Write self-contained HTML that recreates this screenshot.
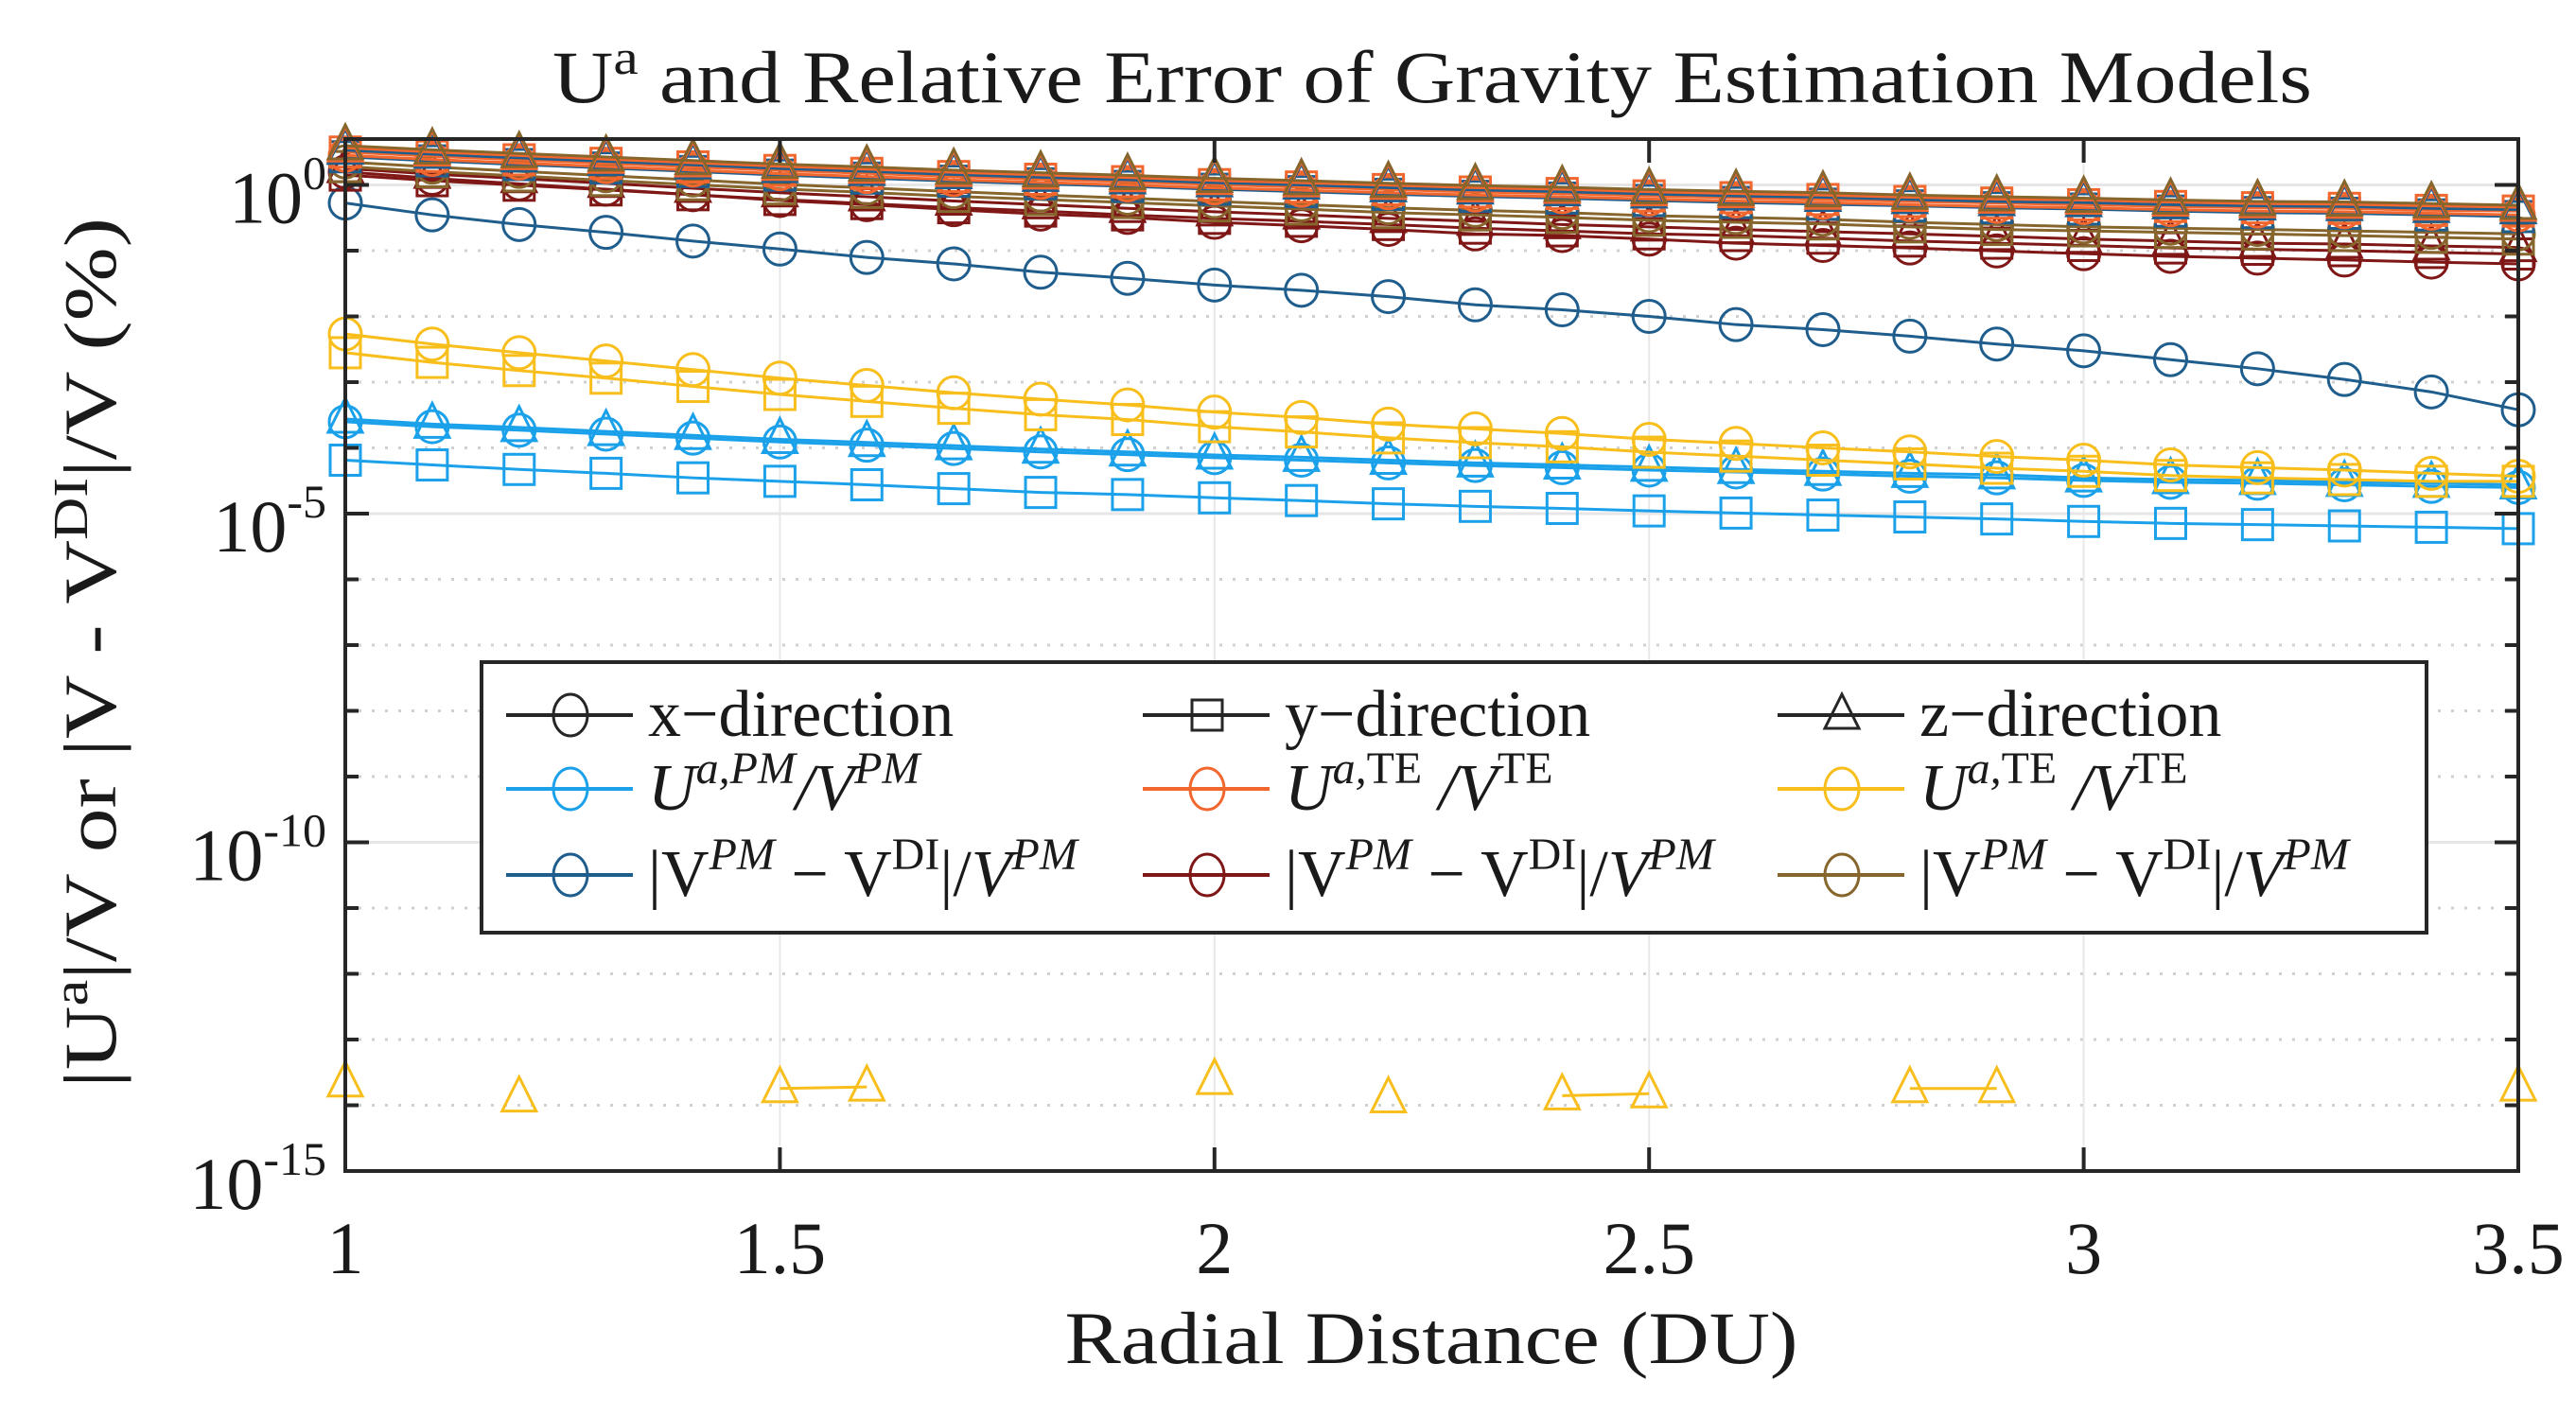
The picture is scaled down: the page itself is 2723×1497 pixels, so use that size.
<!DOCTYPE html>
<html><head><meta charset="utf-8"><style>
html,body{margin:0;padding:0;background:#fff}
svg{display:block}
text{font-family:"Liberation Serif",serif;fill:#1a1a1a}
</style></head><body>
<svg id="chart" width="2723" height="1497" viewBox="0 0 2723 1497" xmlns="http://www.w3.org/2000/svg">
<rect width="2723" height="1497" fill="#fff"/>
<g id="grid"></g>
<g id="series"></g>
<g id="axes"></g>
<text x="1514" y="108" text-anchor="middle" font-size="78" textLength="1860" lengthAdjust="spacingAndGlyphs">U<tspan dy="-30" font-size="52">a</tspan><tspan dy="30"> and Relative Error of Gravity Estimation Models</tspan></text>
<text x="1513" y="1441" text-anchor="middle" font-size="78" textLength="775" lengthAdjust="spacingAndGlyphs">Radial Distance (DU)</text>
<text transform="translate(122,690) rotate(-90)" text-anchor="middle" font-size="78" textLength="920" lengthAdjust="spacingAndGlyphs">|U<tspan dy="-30" font-size="52">a</tspan><tspan dy="30">|/V or |V - V</tspan><tspan dy="-30" font-size="52">DI</tspan><tspan dy="30">|/V (%)</tspan></text>
<g id="legend"></g>
</svg>
<script>
const xs = [1.0,1.1,1.2,1.3,1.4,1.5,1.6,1.7,1.8,1.9,2.0,2.1,2.2,2.3,2.4,2.5,2.6,2.7,2.8,2.9,3.0,3.1,3.2,3.3,3.4,3.5];
const xTicks = [1,1.5,2,2.5,3,3.5];
const xTickLabels = ["1","1.5","2","2.5","3","3.5"];
const yTickExps = [0,-5,-10,-15];
const yGridExps = [0,-1,-2,-3,-4,-5,-6,-7,-8,-9,-10,-11,-12,-13,-14];

const orangeX = [2.82,2.44,2.15,1.90,1.68,1.48,1.34,1.20,1.09,1.0,.90,.83,.76,.70,.66,.61,.57,.54,.50,.47,.45,.42,.40,.39,.37,.35];
const orangeY = [3.16,2.73,2.41,2.13,1.88,1.66,1.50,1.34,1.22,1.12,1.01,.93,.85,.78,.74,.68,.64,.60,.56,.53,.50,.47,.45,.44,.41,.40];
const orangeZ = [3.67,3.17,2.80,2.47,2.18,1.92,1.74,1.56,1.42,1.30,1.17,1.08,.99,.91,.86,.79,.74,.70,.65,.61,.59,.55,.52,.51,.48,.46];
const dblueY = [2.68,2.32,2.04,1.81,1.60,1.41,1.27,1.14,1.04,.95,.86,.79,.72,.67,.63,.58,.54,.51,.48,.45,.43,.40,.38,.37,.35,.33];
const dblueZ = [3.38,2.93,2.58,2.28,2.02,1.78,1.61,1.44,1.31,1.2,1.08,1.0,.91,.84,.79,.73,.68,.65,.60,.56,.54,.50,.48,.47,.44,.42];
const oliveZ = [3.95,3.42,3.01,2.66,2.35,2.07,1.88,1.68,1.53,1.4,1.26,1.16,1.06,.98,.92,.85,.80,.76,.70,.66,.63,.59,.56,.55,.52,.49];
const oliveX = [2.24,1.87,1.61,1.38,1.19,1.02,.90,.79,.70,.63,.56,.50,.45,.41,.38,.34,.32,.30,.27,.25,.23,.22,.21,.20,.19,.18];
const oliveY = [1.9,1.59,1.37,1.17,1.01,.87,.77,.67,.60,.54,.48,.43,.38,.35,.32,.29,.27,.255,.23,.21,.20,.19,.18,.17,.16,.15];
const redX = [1.58,1.26,1.04,.86,.71,.58,.50,.42,.36,.32,.27,.24,.21,.18,.17,.15,.13,.12,.11,.099,.090,.082,.077,.072,.067,.063];
const redY = [1.41,1.16,.99,.84,.71,.60,.52,.45,.40,.35,.31,.28,.25,.22,.20,.18,.17,.155,.14,.13,.12,.11,.105,.10,.094,.089];
const redZ = [1.78,1.46,1.25,1.06,.89,.76,.66,.57,.50,.44,.39,.35,.31,.28,.25,.23,.21,.195,.18,.165,.15,.14,.13,.126,.118,.112];
const dblueX = [5.3e-1,3.5e-1,2.5e-1,1.9e-1,1.4e-1,1.06e-1,7.9e-2,6.3e-2,4.7e-2,3.8e-2,3.0e-2,2.5e-2,2.0e-2,1.5e-2,1.26e-2,1.0e-2,7.5e-3,6.3e-3,5.0e-3,3.8e-3,3.0e-3,2.2e-3,1.6e-3,1.1e-3,7.1e-4,3.8e-4];
const yellowX = [5.4e-3,3.8e-3,2.8e-3,2.1e-3,1.55e-3,1.15e-3,8.9e-4,6.9e-4,5.5e-4,4.5e-4,3.5e-4,2.9e-4,2.3e-4,1.95e-4,1.66e-4,1.35e-4,1.17e-4,1.0e-4,8.7e-5,7.4e-5,6.5e-5,5.5e-5,5.0e-5,4.6e-5,4.1e-5,3.7e-5];
const yellowY = [2.8e-3,2.0e-3,1.5e-3,1.15e-3,8.6e-4,6.5e-4,5.1e-4,4.0e-4,3.2e-4,2.7e-4,2.1e-4,1.75e-4,1.42e-4,1.2e-4,1.04e-4,8.6e-5,7.5e-5,6.5e-5,5.7e-5,4.9e-5,4.4e-5,3.8e-5,3.5e-5,3.3e-5,3.1e-5,3.1e-5];
const yellowZ = [2.2e-14,null,1.3e-14,null,null,1.8e-14,1.9e-14,null,null,null,2.4e-14,null,1.26e-14,null,1.4e-14,1.5e-14,null,null,1.8e-14,1.8e-14,null,null,null,null,null,1.9e-14];
const lblueX = [2.5e-4,2.1e-4,1.86e-4,1.62e-4,1.41e-4,1.23e-4,1.1e-4,9.8e-5,8.7e-5,7.9e-5,7.1e-5,6.5e-5,5.9e-5,5.4e-5,5.0e-5,4.6e-5,4.3e-5,4.0e-5,3.7e-5,3.5e-5,3.2e-5,3.0e-5,2.9e-5,2.75e-5,2.6e-5,2.5e-5];
const lblueZ = [2.75e-4,2.3e-4,2.05e-4,1.78e-4,1.55e-4,1.35e-4,1.21e-4,1.08e-4,9.6e-5,8.7e-5,7.8e-5,7.2e-5,6.5e-5,5.9e-5,5.5e-5,5.1e-5,4.7e-5,4.4e-5,4.1e-5,3.9e-5,3.5e-5,3.3e-5,3.2e-5,3.0e-5,2.9e-5,2.75e-5];
const lblueY = [6.5e-5,5.5e-5,4.7e-5,4.1e-5,3.5e-5,3.1e-5,2.75e-5,2.4e-5,2.1e-5,1.95e-5,1.74e-5,1.58e-5,1.41e-5,1.29e-5,1.2e-5,1.1e-5,1.02e-5,9.5e-6,8.9e-6,8.3e-6,7.6e-6,7.1e-6,6.8e-6,6.5e-6,6.2e-6,5.9e-6];

const C = {lblue:'#1ba1ea', orange:'#f2672e', yellow:'#f8be1c', dblue:'#1f5d8d', red:'#7f1717', olive:'#86662c'};
const seriesList = [
  ['ua-pm-y', lblueY, C.lblue, 's'], ['ua-pm-x', lblueX, C.lblue, 'o'], ['ua-pm-z', lblueZ, C.lblue, '^'],
  ['ua-te-yellow-y', yellowY, C.yellow, 's'], ['ua-te-yellow-x', yellowX, C.yellow, 'o'], ['ua-te-yellow-z', yellowZ, C.yellow, '^'],
  ['diff-pm-x', dblueX, C.dblue, 'o'],
  ['diff-red-x', redX, C.red, 'o'], ['diff-red-y', redY, C.red, 's'], ['diff-red-z', redZ, C.red, '^'],
  ['diff-olive-x', oliveX, C.olive, 'o'], ['diff-olive-y', oliveY, C.olive, 's'],
  ['diff-pm-y', dblueY, C.dblue, 's'], ['ua-te-x', orangeX, C.orange, 'o'], ['ua-te-y', orangeY, C.orange, 's'],
  ['diff-pm-z', dblueZ, C.dblue, '^'], ['ua-te-z', orangeZ, C.orange, '^'], ['diff-olive-z', oliveZ, C.olive, '^']
];

const L=365, R=2662, T=147, B=1238;
const Y0=195.5, DEC=69.5;
function sx(v){ return L + (v-1)/2.5*(R-L); }
function sy(v){ return Y0 - DEC*Math.log10(v); }
function syExp(e){ return Y0 - DEC*e; }
const NS='http://www.w3.org/2000/svg';
function mk(tag, attrs, parent){ const e=document.createElementNS(NS,tag); for(const k in attrs) e.setAttribute(k, attrs[k]); parent.appendChild(e); return e; }

const grid=document.getElementById('grid');
yGridExps.forEach(e=>{
  const y=syExp(e);
  const major = (e%5===0);
  const g=mk('line',{x1:L,x2:R,y1:y,y2:y,stroke:major?'#e6e6e6':'#d0d0d0','stroke-width':3,'stroke-dasharray':major?'none':'3 11'},grid);
  
  
});
xTicks.forEach(v=>{
  const x=sx(v);
  const g=mk('line',{x1:x,x2:x,y1:T,y2:B,stroke:'#e8e8e8','stroke-width':2},grid);
  
  
});

const sg=document.getElementById('series');
function marker(shape,x,y,col,parent){
  let m;
  if(shape==='o') m=mk('ellipse',{cx:x,cy:y,rx:17,ry:17,fill:'none',stroke:col,'stroke-width':3},parent);
  else if(shape==='s') m=mk('rect',{x:x-16,y:y-16,width:32,height:32,fill:'none',stroke:col,'stroke-width':3},parent);
  else m=mk('polygon',{points:`${x},${y-22} ${x-18},${y+14} ${x+18},${y+14}`,fill:'none',stroke:col,'stroke-width':3},parent);
  return m;
}
seriesList.forEach(([name,vals,col,shape])=>{
  const g=mk('g',{},sg);
  
  
  let seg=[];
  const segs=[];
  vals.forEach((v,i)=>{ if(v==null){ if(seg.length) segs.push(seg); seg=[]; } else seg.push([sx(xs[i]),sy(v)]); });
  if(seg.length) segs.push(seg);
  segs.forEach(s=>{ if(s.length>1){ const p=mk('polyline',{points:s.map(q=>q.join(',')).join(' '),fill:'none',stroke:col,'stroke-width':3},g);
    
     }});
  vals.forEach((v,i)=>{ if(v==null) return; const m=marker(shape,sx(xs[i]),sy(v),col,g);
    
     });
});

const ax=document.getElementById('axes');
mk('rect',{x:L,y:T,width:R-L,height:B-T,fill:'none',stroke:'#262626','stroke-width':4},ax);
xTicks.forEach((v,i)=>{
  const x=sx(v);
  mk('line',{x1:x,x2:x,y1:B,y2:B-25,stroke:'#262626','stroke-width':4},ax);
  mk('line',{x1:x,x2:x,y1:T,y2:T+25,stroke:'#262626','stroke-width':4},ax);
  const t=mk('text',{x:x,y:1346,'text-anchor':'middle','font-size':78},ax);
  t.textContent=xTickLabels[i];
  
  
});
yGridExps.forEach(e=>{
  const y=syExp(e); const len=(e%5===0)?25:14;
  mk('line',{x1:L,x2:L+len,y1:y,y2:y,stroke:'#262626','stroke-width':4},ax);
  mk('line',{x1:R,x2:R-len,y1:y,y2:y,stroke:'#262626','stroke-width':4},ax);
});
yTickExps.forEach(e=>{
  const y=syExp(e);
  const t=mk('text',{x:345,y:y+40,'text-anchor':'end','font-size':78},ax);
  
  
  const a=mk('tspan',{},t); a.textContent='10';
  const b=mk('tspan',{dy:-36,'font-size':50},t); b.textContent=String(e);
});

const lg=document.getElementById('legend');
mk('rect',{x:509,y:700,width:2056,height:286,fill:'#fff',stroke:'#262626','stroke-width':4},lg);
const colX=[535,1208,1879];
const rowY=[756,834,925];
const legendEntries=[
  [0,0,'#262626','o','<tspan>x−direction</tspan>'],
  [1,0,'#262626','s','<tspan>y−direction</tspan>'],
  [2,0,'#262626','^','<tspan>z−direction</tspan>'],
  [0,1,C.lblue,'o','<tspan font-style="italic">U</tspan><tspan font-style="italic" font-size="48" dy="-28">a,PM</tspan><tspan dy="28" font-style="italic">/V</tspan><tspan font-style="italic" font-size="48" dy="-28">PM</tspan>'],
  [1,1,C.orange,'o','<tspan font-style="italic">U</tspan><tspan font-style="italic" font-size="48" dy="-28">a,</tspan><tspan font-size="48">TE</tspan><tspan dy="28" font-style="italic"> /V</tspan><tspan font-size="48" dy="-28">TE</tspan>'],
  [2,1,C.yellow,'o','<tspan font-style="italic">U</tspan><tspan font-style="italic" font-size="48" dy="-28">a,</tspan><tspan font-size="48">TE</tspan><tspan dy="28" font-style="italic"> /V</tspan><tspan font-size="48" dy="-28">TE</tspan>'],
  [0,2,C.dblue,'o','<tspan>|V</tspan><tspan font-style="italic" font-size="48" dy="-28">PM</tspan><tspan dy="28"> − V</tspan><tspan font-size="48" dy="-28">DI</tspan><tspan dy="28">|/</tspan><tspan font-style="italic">V</tspan><tspan font-style="italic" font-size="48" dy="-28">PM</tspan>'],
  [1,2,C.red,'o','<tspan>|V</tspan><tspan font-style="italic" font-size="48" dy="-28">PM</tspan><tspan dy="28"> − V</tspan><tspan font-size="48" dy="-28">DI</tspan><tspan dy="28">|/</tspan><tspan font-style="italic">V</tspan><tspan font-style="italic" font-size="48" dy="-28">PM</tspan>'],
  [2,2,C.olive,'o','<tspan>|V</tspan><tspan font-style="italic" font-size="48" dy="-28">PM</tspan><tspan dy="28"> − V</tspan><tspan font-size="48" dy="-28">DI</tspan><tspan dy="28">|/</tspan><tspan font-style="italic">V</tspan><tspan font-style="italic" font-size="48" dy="-28">PM</tspan>']
];
legendEntries.forEach(([c,r,col,shape,html])=>{
  const g=mk('g',{},lg);
  
  
  const x=colX[c], y=rowY[r];
  mk('line',{x1:x,x2:x+134,y1:y,y2:y,stroke:col,'stroke-width':4},g);
  if(shape==='o') mk('ellipse',{cx:x+68,cy:y,rx:18,ry:22,fill:'none',stroke:col,'stroke-width':3},g);
  else marker(shape,x+68,y,col,g);
  const t=mk('text',{x:x+150,y:y+22,'font-size':70},g);
  t.innerHTML=html;
});
</script>
</body></html>
